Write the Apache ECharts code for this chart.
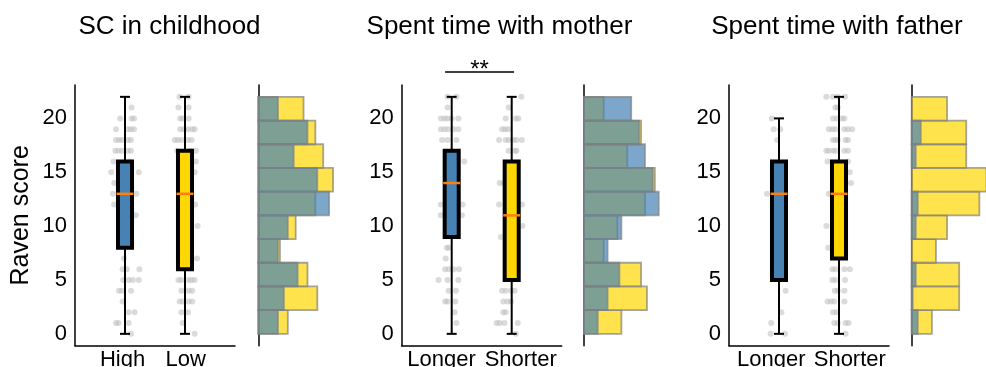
<!DOCTYPE html>
<html><head><meta charset="utf-8">
<script src="https://cdn.jsdelivr.net/npm/echarts@6/dist/echarts.min.js"></script>
<style>html,body{margin:0;padding:0;background:#fff}#c{width:986px;height:367px}</style>
</head><body><div id="c"></div>
<script>
// ---------------- data ----------------
const panelTitles = ['SC in childhood', 'Spent time with mother', 'Spent time with father'];
const groupLabels = [['High', 'Low'], ['Longer', 'Shorter'], ['Longer', 'Shorter']];
const labelPositions = [[0.96, 2.01], [0.83, 2.15], [0.87, 2.18]];
const yTicks = [0, 5, 10, 15, 20];
const yAxisName = 'Raven score';
const sigText = '**';
const sigPair = [0.89, 2.04]; // bracket span in panel 2 (category units)

// box stats: [min, q1, median, q3, max]
const boxSC = [[0, 8, 13, 16, 22], [0, 6, 13, 17, 22]];
const boxMother = [[0, 9, 14, 17, 22], [0, 5, 11, 16, 22]];
const boxFather = [[0, 5, 13, 16, 20], [0, 7, 13, 16, 22]];

// histogram bins (Raven score) and counts, bottom to top
const binEdges = [0, 2.2, 4.4, 6.6, 8.8, 11, 13.2, 15.4, 17.6, 19.8, 22];
const histSCHigh = [10, 13, 20, 10, 15, 36, 30, 18, 25, 10];
const histSCLow = [15, 30, 25, 11, 19, 29, 38, 33, 29, 23];
const histMotherLonger = [7, 12, 18, 12, 19, 38, 35, 31, 28, 24];
const histMotherShorter = [19, 32, 29, 10, 17, 31, 36, 22, 29, 10];
const histFatherLonger = [6, 1, 4, 0, 4, 6, 0, 4, 9, 0];
const histFatherShorter = [20, 47, 47, 24, 35, 67, 74, 54, 54, 35];

// strip-plot points: [score, jitter]
const dotsHigh = [[21,.11],[20,-.08],[20,.11],[20,.15],[19,-.15],[19,.05],[19,.10],[19,.15],[18,-.15],[18,-.10],[18,-.05],[18,.05],[18,.10],[17,-.16],[17,-.11],[17,-.05],[17,.05],[17,.10],[16,-.19],[16,.08],[15,-.23],[15,.23],[14,-.18],[13,-.20],[13,.19],[12,-.18],[11,.18],[7,-.02],[6,-.04],[6,.03],[6,.24],[5,-.03],[5,.06],[5,.13],[5,.23],[4,-.10],[4,-.05],[4,.10],[3,-.04],[2,.06],[2,.16],[1,-.15],[1,-.11],[1,.06],[0,.10]];
const dotsLow = [[22,-.09],[22,.06],[21,-.11],[21,.06],[20,-.08],[20,-.04],[20,.06],[19,-.08],[19,-.02],[19,.05],[19,.12],[19,.16],[18,-.17],[18,-.12],[18,-.06],[18,.05],[18,.11],[17,-.13],[17,.09],[17,.18],[16,.18],[15,.16],[12,.17],[10,.21],[7,.20],[5,-.11],[5,-.06],[5,.06],[5,.11],[5,.16],[4,-.06],[4,.06],[4,.12],[3,-.09],[3,-.04],[3,.06],[3,.12],[2,-.06],[2,.05],[1,-.04],[0,.16]];
const dotsMotherLonger = [[22,-.07],[22,.08],[21,-.07],[20,-.18],[20,-.12],[20,-.07],[20,0],[20,.11],[19,-.18],[19,-.12],[19,-.06],[19,.03],[19,.11],[18,-.16],[18,-.07],[18,.08],[16,.21],[12,-.18],[12,.18],[11,-.18],[11,.17],[8,-.08],[8,-.05],[7,-.10],[6,-.11],[6,-.05],[6,.03],[6,.12],[5,-.22],[5,-.07],[5,.11],[4,-.05],[4,.07],[3,-.11],[3,-.07],[3,.06],[2,.05],[1,.08]];
const dotsMotherShorter = [[22,.16],[21,-.05],[20,-.10],[20,.07],[20,.11],[19,-.16],[19,-.11],[19,-.06],[18,-.21],[18,-.10],[18,-.05],[18,.03],[18,.08],[18,.17],[17,-.05],[17,.05],[17,.08],[14,-.20],[14,-.14],[12,-.21],[12,.17],[10,.18],[9,-.18],[4,-.16],[4,-.10],[4,-.01],[4,.05],[3,-.14],[3,-.07],[3,-.01],[2,-.14],[2,-.10],[1,-.25],[1,-.20],[1,-.12],[1,.10],[0,.07]];
const dotsFatherLonger = [[20,-.12],[19,-.09],[19,.02],[18,-.03],[13,-.20],[4,.11],[2,.04],[1,-.13],[0,-.14],[0,.10]];
const dotsFatherShorter = [[22,-.21],[22,-.10],[22,-.02],[22,.10],[21,-.06],[21,-.02],[20,-.10],[20,-.04],[20,.05],[20,.09],[19,-.17],[19,-.11],[19,-.06],[19,.09],[19,.15],[19,.22],[18,-.10],[18,-.06],[18,-.02],[18,.11],[18,.15],[17,-.21],[17,-.17],[17,-.10],[17,-.06],[17,.09],[17,.15],[16,-.19],[16,.15],[15,.18],[14,.20],[13,-.17],[10,-.21],[8,-.18],[6,-.11],[6,-.06],[6,.09],[6,.18],[5,-.11],[5,-.06],[5,.10],[4,-.07],[4,-.02],[4,.09],[3,-.19],[3,-.13],[3,-.08],[3,.09],[2,-.10],[2,-.04],[1,-.08],[1,-.02],[1,.11],[1,.16],[0,.11]];

// ---------------- chart ----------------
const panels = [
  {box: boxSC, hist: [histSCHigh, histSCLow], dots: [dotsHigh, dotsLow]},
  {box: boxMother, hist: [histMotherLonger, histMotherShorter], dots: [dotsMotherLonger, dotsMotherShorter]},
  {box: boxFather, hist: [histFatherLonger, histFatherShorter], dots: [dotsFatherLonger, dotsFatherShorter]}
];
const FONT = '"Liberation Sans", Arial, sans-serif';
const BLUE = '#4682B4', GOLD = '#FFD700', MED = '#ff7f0e';
const Y_MIN = -1.1, Y_MAX = 23.1, X_MIN = 1 / 6, X_MAX = 17 / 6;
const TOP = 85, HEIGHT = 260.7;
const boxLefts = [75, 401.7, 729], histLefts = [258.3, 584, 911.7];
const titleX = [169.5, 499.5, 837];

const grid = [], xAxis = [], yAxis = [], series = [];
panels.forEach((p, i) => {
  grid.push({left: boxLefts[i], top: TOP, width: 160, height: HEIGHT, containLabel: false, outerBoundsMode: 'none'});
  grid.push({left: histLefts[i], top: TOP, width: 78.5, height: HEIGHT, containLabel: false, outerBoundsMode: 'none'});
  const labels = groupLabels[i], lpos = labelPositions[i];
  xAxis.push({
    gridIndex: 2 * i, type: 'value', min: X_MIN, max: X_MAX,
    splitLine: {show: false}, axisTick: {show: false},
    axisLine: {show: true, onZero: false, lineStyle: {color: '#000', width: 1.5}},
    axisLabel: {customValues: lpos, hideOverlap: false,
      formatter: v => { const k = lpos.findIndex(q => Math.abs(q - v) < 1e-6); return k >= 0 ? labels[k] : ''; },
      fontFamily: FONT, fontSize: 22, color: '#000', margin: 3}
  });
  const maxC = Math.max(...p.hist[0], ...p.hist[1]);
  xAxis.push({gridIndex: 2 * i + 1, type: 'value', min: 0, max: maxC * 1.05, show: false});
  yAxis.push({
    gridIndex: 2 * i, type: 'value', min: Y_MIN, max: Y_MAX,
    splitLine: {show: false}, axisTick: {show: false},
    axisLine: {show: true, lineStyle: {color: '#000', width: 1.5}},
    axisLabel: {customValues: yTicks, fontFamily: FONT, fontSize: 22, color: '#000', margin: 8},
    name: i === 0 ? yAxisName : '', nameLocation: 'middle', nameGap: 41,
    nameTextStyle: {fontFamily: FONT, fontSize: 25, color: '#000'}
  });
  yAxis.push({
    gridIndex: 2 * i + 1, type: 'value', min: Y_MIN, max: Y_MAX,
    splitLine: {show: false}, axisTick: {show: false}, axisLabel: {show: false},
    axisLine: {show: true, lineStyle: {color: '#000', width: 1.5}}
  });
  // strip dots
  p.dots.forEach((g, gi) => {
    series.push({
      type: 'scatter', xAxisIndex: 2 * i, yAxisIndex: 2 * i, z: 1,
      data: g.map(d => [gi + 1 + d[1], d[0]]),
      symbolSize: 6, silent: true,
      itemStyle: {color: '#bdbdbd', opacity: 0.55}
    });
  });
  // boxes
  const boxColors = [BLUE, GOLD];
  series.push({
    type: 'custom', xAxisIndex: 2 * i, yAxisIndex: 2 * i, z: 3,
    data: p.box.map((b, gi) => [gi + 1, ...b]),
    renderItem: (params, api) => {
      const x = api.value(0);
      const c = v => api.coord([x, v]);
      const pLo = c(api.value(1)), pQ1 = c(api.value(2)), pMd = c(api.value(3)), pQ3 = c(api.value(4)), pHi = c(api.value(5));
      const hw = api.coord([x + 0.117, 0])[0] - pLo[0];
      const cw = api.coord([x + 0.083, 0])[0] - pLo[0];
      const X = pLo[0];
      const col = boxColors[params.dataIndex];
      const rect = {x: X - hw, y: pQ3[1], width: 2 * hw, height: pQ1[1] - pQ3[1]};
      return {type: 'group', children: [
        {type: 'line', shape: {x1: X, y1: pLo[1], x2: X, y2: pHi[1]}, style: {stroke: '#000', lineWidth: 2}},
        {type: 'line', shape: {x1: X - cw, y1: pLo[1], x2: X + cw, y2: pLo[1]}, style: {stroke: '#000', lineWidth: 2}},
        {type: 'line', shape: {x1: X - cw, y1: pHi[1], x2: X + cw, y2: pHi[1]}, style: {stroke: '#000', lineWidth: 2}},
        {type: 'rect', shape: rect, style: {fill: col}},
        {type: 'rect', shape: rect, style: {fill: 'none', stroke: '#000', lineWidth: 4}},
        {type: 'line', shape: {x1: X - hw - 1.5, y1: pMd[1], x2: X + hw + 1.5, y2: pMd[1]}, style: {stroke: MED, lineWidth: 2.5}}
      ]};
    }
  });
  // histograms (gold below, blue above)
  [[1, GOLD], [0, BLUE]].forEach(([gi, col]) => {
    series.push({
      type: 'custom', xAxisIndex: 2 * i + 1, yAxisIndex: 2 * i + 1, z: 2,
      data: p.hist[gi].map((v, k) => [binEdges[k], binEdges[k + 1], v]),
      renderItem: (params, api) => {
        const cnt = api.value(2);
        if (!cnt) return null;
        const a = api.coord([0, api.value(0)]);
        const b = api.coord([cnt, api.value(1)]);
        return {type: 'rect', shape: {x: a[0], y: b[1], width: b[0] - a[0], height: a[1] - b[1]},
          style: {fill: col, stroke: '#808080', lineWidth: 1.8, opacity: 0.7}};
      }
    });
  });
});
// significance bracket in panel 2
series.push({
  type: 'custom', xAxisIndex: 2, yAxisIndex: 2, clip: false, z: 5,
  data: [[sigPair[0], sigPair[1], 24.3]],
  renderItem: (params, api) => {
    const a = api.coord([api.value(0), api.value(2)]);
    const b = api.coord([api.value(1), api.value(2)]);
    return {type: 'group', children: [
      {type: 'line', shape: {x1: a[0], y1: a[1], x2: b[0], y2: b[1]}, style: {stroke: '#000', lineWidth: 1.5}},
      {type: 'text', style: {text: sigText, x: (a[0] + b[0]) / 2, y: a[1] + 10, align: 'center', verticalAlign: 'bottom',
        font: '24px ' + FONT, fill: '#000'}}
    ]};
  }
});

const chart = echarts.init(document.getElementById('c'), null, {renderer: 'canvas'});
chart.setOption({
  animation: false,
  backgroundColor: '#fff',
  grid, xAxis, yAxis, series,
  graphic: panelTitles.map((t, i) => ({
    type: 'text', x: titleX[i], y: 27,
    style: {text: t, align: 'center', verticalAlign: 'middle', font: '26px ' + FONT, fill: '#000'}
  }))
});
</script></body></html>
